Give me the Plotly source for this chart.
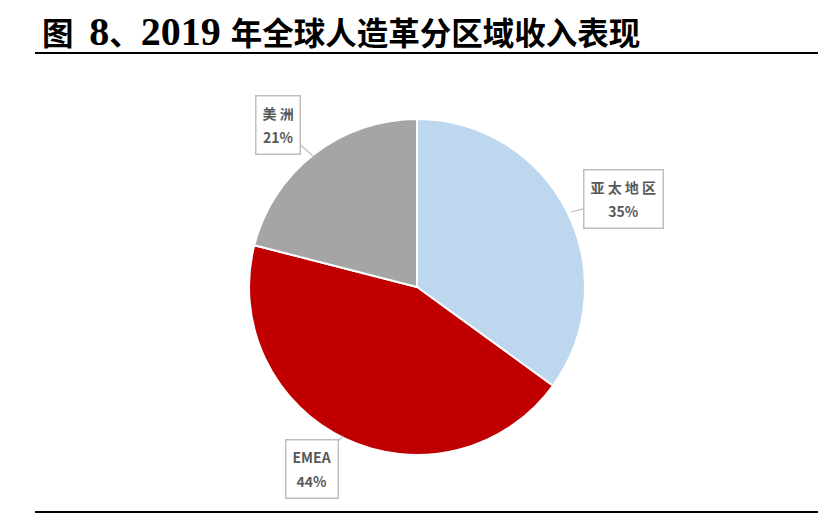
import plotly.graph_objects as go

# data
regions = ['亚太地区', 'EMEA', '美洲']
shares = [35, 44, 21]
colors = ['#BDD7EE', '#C00000', '#A5A5A5']

W, H = 833, 516
OFF = 8  # page body margin shifts the figure by 8px


def px_x(v):
    return (v - OFF) / W


def px_y(v):
    return 1 - (v - OFF) / H


fig = go.Figure()

fig.add_trace(go.Pie(
    labels=regions,
    values=shares,
    sort=False,
    direction='clockwise',
    rotation=0,
    marker=dict(colors=colors, line=dict(color='white', width=2)),
    textinfo='none',
    hoverinfo='label+percent',
    showlegend=False,
    domain=dict(x=[px_x(249), px_x(585)], y=[px_y(455), px_y(119)]),
))

# callout labels: tip on the pie edge, box centre offset in pixels
callouts = {
    '亚太地区': dict(tip=(571, 212), box=(623, 199)),
    'EMEA': dict(tip=(343, 436), box=(312, 469)),
    '美洲': dict(tip=(313, 156), box=(278, 125)),
}
total = sum(shares)
for name, val in zip(regions, shares):
    c = callouts[name]
    tx, ty = c['tip']
    bx, by = c['box']
    label = name if name == 'EMEA' else ' '.join(name)
    # small base font keeps the line pitch, spans carry the real size
    text = ('<span style="font-size:14px"><b>%s</b></span><br> <br>'
            '<span style="font-size:14px"><b>%d%%</b></span>'
            % (label, round(val / total * 100)))
    fig.add_annotation(
        x=px_x(tx), y=px_y(ty), xref='paper', yref='paper',
        ax=bx - tx, ay=by - ty,
        text=text,
        showarrow=True, arrowhead=0, arrowwidth=1.2, arrowcolor='#BFBFBF',
        bordercolor='#BFBFBF', borderwidth=1.5, borderpad=6, bgcolor='white',
        font=dict(family='Noto Sans CJK SC', size=9.5, color='#595959'),
        align='center',
    )

# title: latin part in a larger serif, CJK part in a smaller size
title = ('<b>图  <span style="font-size:40px">8</span>、'
         '<span style="font-size:40px">2019 </span>年全球人造革分区域收入表现</b>')
fig.add_annotation(
    x=px_x(40), y=px_y(32), xref='paper', yref='paper',
    xanchor='left', yanchor='middle', showarrow=False,
    text=title,
    font=dict(family='Liberation Serif, Noto Sans CJK SC', size=31.5, color='black'),
)

# rules above and below
for yy in (53, 512):
    fig.add_shape(type='line', xref='paper', yref='paper',
                  x0=px_x(35), x1=px_x(818), y0=px_y(yy), y1=px_y(yy),
                  line=dict(color='black', width=2))

fig.update_layout(
    width=W, height=H,
    margin=dict(l=0, r=0, t=0, b=0),
    paper_bgcolor='white',
    plot_bgcolor='white',
)

fig.write_html('out.html')
